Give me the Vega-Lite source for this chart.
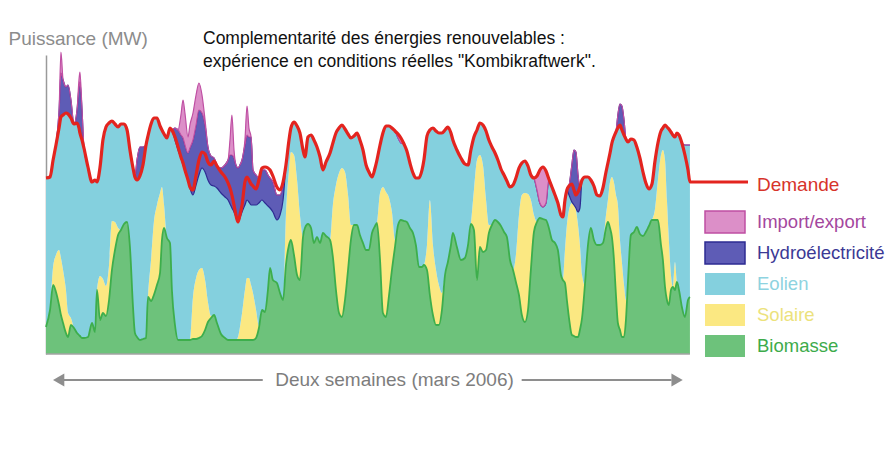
{
 "$schema": "https://vega.github.io/schema/vega-lite/v6.json",
 "autosize": {"type": "none"},
 "width": 702,
 "height": 299,
 "padding": {"left": 46, "top": 55, "right": 140, "bottom": 99},
 "background": "white",
 "config": {"font": "Liberation Sans", "view": {"stroke": null}},
 "title": {
  "text": ["Complementarité des énergies renouvelables :", "expérience en conditions réelles \"Kombikraftwerk\"."],
  "anchor": "start", "frame": "group", "dx": 157, "dy": 41, "offset": 0,
  "fontSize": 17.5, "fontWeight": "normal", "color": "#111111", "lineHeight": 23, "baseline": "top"
 },
 "datasets": {
  "sources": [
   {"k": "bio", "source": "Biomasse", "rank": 1},
   {"k": "sol", "source": "Solaire", "rank": 2},
   {"k": "eol", "source": "Eolien", "rank": 3},
   {"k": "hyd", "source": "Hydroélectricité", "rank": 4},
   {"k": "imp", "source": "Import/export", "rank": 5}
  ],
  "energy": [
   {"h":0,"bio":2.7,"sol":0,"eol":14.9,"hyd":0,"imp":0,"dem":17.6},
   {"h":2.1,"bio":4.4,"sol":0,"eol":13.3,"hyd":0,"imp":0,"dem":17.7},
   {"h":3.7,"bio":6.9,"sol":1.8,"eol":10.7,"hyd":0,"imp":0,"dem":19.4},
   {"h":5.2,"bio":6.2,"sol":3.7,"eol":11.0,"hyd":0,"imp":0,"dem":20.9},
   {"h":6.8,"bio":4.9,"sol":5.5,"eol":12.2,"hyd":1.6,"imp":0,"dem":22.6},
   {"h":7.8,"bio":3.9,"sol":5.7,"eol":14.1,"hyd":4.4,"imp":2.1,"dem":23.7},
   {"h":8.9,"bio":3.1,"sol":5.3,"eol":15.5,"hyd":3.5,"imp":0,"dem":23.9},
   {"h":10.4,"bio":2.1,"sol":4.3,"eol":17.7,"hyd":2.6,"imp":0,"dem":24.1},
   {"h":11.5,"bio":1.7,"sol":2.4,"eol":19.9,"hyd":2.9,"imp":0,"dem":24.0},
   {"h":13.0,"bio":2.9,"sol":0.7,"eol":20.0,"hyd":1.8,"imp":0,"dem":23.6},
   {"h":14.6,"bio":2.6,"sol":0,"eol":20.4,"hyd":0,"imp":0,"dem":23.0},
   {"h":16.2,"bio":2.1,"sol":0,"eol":21.0,"hyd":1.3,"imp":0,"dem":23.1},
   {"h":17.2,"bio":1.9,"sol":0,"eol":20.7,"hyd":4.0,"imp":0.8,"dem":22.6},
   {"h":17.7,"bio":1.8,"sol":0,"eol":20.3,"hyd":5.1,"imp":1.0,"dem":22.1},
   {"h":18.8,"bio":1.6,"sol":0,"eol":19.8,"hyd":3.0,"imp":0,"dem":21.4},
   {"h":19.8,"bio":1.6,"sol":0,"eol":19.0,"hyd":0,"imp":0,"dem":20.6},
   {"h":21.9,"bio":1.7,"sol":0,"eol":17.0,"hyd":0,"imp":0,"dem":18.7},
   {"h":24.0,"bio":3.1,"sol":0,"eol":14.1,"hyd":0,"imp":0,"dem":17.2},
   {"h":25.6,"bio":2.2,"sol":0,"eol":15.2,"hyd":0,"imp":0,"dem":17.4},
   {"h":26.6,"bio":6.4,"sol":0,"eol":10.8,"hyd":0,"imp":0,"dem":17.2},
   {"h":28.2,"bio":3.4,"sol":4.4,"eol":10.9,"hyd":0,"imp":0,"dem":18.7},
   {"h":29.7,"bio":4.1,"sol":3.4,"eol":13.9,"hyd":0,"imp":0,"dem":21.4},
   {"h":31.3,"bio":3.8,"sol":3.0,"eol":15.9,"hyd":0,"imp":0,"dem":22.7},
   {"h":32.9,"bio":5.4,"sol":3.5,"eol":14.2,"hyd":0,"imp":0,"dem":23.1},
   {"h":34.4,"bio":8.4,"sol":4.9,"eol":10.0,"hyd":0,"imp":0,"dem":23.3},
   {"h":36.0,"bio":10.4,"sol":2.8,"eol":9.8,"hyd":0,"imp":0,"dem":23.0},
   {"h":37.6,"bio":11.9,"sol":0.7,"eol":10.1,"hyd":0,"imp":0,"dem":22.7},
   {"h":39.1,"bio":12.4,"sol":0,"eol":10.6,"hyd":0,"imp":0,"dem":23.0},
   {"h":40.7,"bio":13.0,"sol":0,"eol":10.0,"hyd":0,"imp":0,"dem":23.0},
   {"h":42.3,"bio":13.2,"sol":0,"eol":9.2,"hyd":0,"imp":0,"dem":22.4},
   {"h":43.8,"bio":10.7,"sol":0,"eol":9.7,"hyd":0,"imp":0,"dem":20.4},
   {"h":45.4,"bio":4.7,"sol":0,"eol":13.9,"hyd":0,"imp":0,"dem":18.6},
   {"h":46.4,"bio":2.1,"sol":0,"eol":15.6,"hyd":0,"imp":0,"dem":17.7},
   {"h":47.5,"bio":1.7,"sol":0,"eol":15.7,"hyd":2.0,"imp":0,"dem":17.4},
   {"h":49.0,"bio":1.4,"sol":0,"eol":16.4,"hyd":2.9,"imp":0,"dem":17.8},
   {"h":50.6,"bio":1.5,"sol":0,"eol":17.4,"hyd":1.8,"imp":0,"dem":18.9},
   {"h":52.2,"bio":1.6,"sol":0,"eol":19.3,"hyd":0,"imp":0,"dem":20.9},
   {"h":53.2,"bio":5.7,"sol":0,"eol":16.1,"hyd":0,"imp":0,"dem":21.8},
   {"h":54.8,"bio":5.3,"sol":4.1,"eol":13.6,"hyd":0,"imp":0,"dem":23.0},
   {"h":56.3,"bio":5.9,"sol":7.3,"eol":10.4,"hyd":0,"imp":0,"dem":23.6},
   {"h":57.9,"bio":6.9,"sol":8.0,"eol":8.7,"hyd":0,"imp":0,"dem":23.6},
   {"h":59.5,"bio":8.1,"sol":8.0,"eol":6.7,"hyd":0,"imp":0,"dem":22.8},
   {"h":60.5,"bio":11.4,"sol":5.3,"eol":5.7,"hyd":0,"imp":0,"dem":22.4},
   {"h":61.6,"bio":12.6,"sol":2.3,"eol":7.1,"hyd":0,"imp":0,"dem":22.0},
   {"h":63.1,"bio":11.6,"sol":0,"eol":10.0,"hyd":0,"imp":0,"dem":21.6},
   {"h":64.7,"bio":11.1,"sol":0,"eol":11.5,"hyd":0,"imp":0,"dem":22.6},
   {"h":65.7,"bio":6.4,"sol":0,"eol":16.0,"hyd":0,"imp":0,"dem":22.4},
   {"h":67.3,"bio":2.9,"sol":0,"eol":18.5,"hyd":1.2,"imp":0,"dem":21.7},
   {"h":68.9,"bio":1.4,"sol":0,"eol":19.0,"hyd":2.0,"imp":0,"dem":20.7},
   {"h":70.4,"bio":1.4,"sol":0,"eol":18.2,"hyd":2.3,"imp":2.0,"dem":19.7},
   {"h":71.5,"bio":1.4,"sol":0,"eol":17.5,"hyd":2.7,"imp":3.8,"dem":19.1},
   {"h":72.5,"bio":1.4,"sol":0,"eol":17.0,"hyd":2.5,"imp":3.2,"dem":18.4},
   {"h":74.1,"bio":1.4,"sol":0,"eol":16.0,"hyd":2.7,"imp":1.6,"dem":17.4},
   {"h":75.1,"bio":1.4,"sol":0,"eol":15.2,"hyd":4.0,"imp":2.3,"dem":16.7},
   {"h":76.7,"bio":1.5,"sol":4.2,"eol":10.2,"hyd":5.5,"imp":2.7,"dem":16.4},
   {"h":78.3,"bio":1.5,"sol":6.1,"eol":9.3,"hyd":6.0,"imp":3.0,"dem":17.9},
   {"h":79.8,"bio":1.6,"sol":6.8,"eol":9.5,"hyd":6.5,"imp":2.7,"dem":19.4},
   {"h":81.4,"bio":1.8,"sol":6.8,"eol":10.0,"hyd":5.5,"imp":1.8,"dem":20.2},
   {"h":83.0,"bio":2.4,"sol":5.0,"eol":10.8,"hyd":4.7,"imp":0.5,"dem":20.0},
   {"h":84.5,"bio":3.2,"sol":2.0,"eol":12.2,"hyd":3.3,"imp":0,"dem":19.2},
   {"h":86.1,"bio":3.6,"sol":0.2,"eol":13.1,"hyd":2.9,"imp":0,"dem":18.9},
   {"h":87.7,"bio":3.9,"sol":0,"eol":12.9,"hyd":2.8,"imp":0,"dem":19.3},
   {"h":89.2,"bio":3.1,"sol":0,"eol":13.5,"hyd":2.3,"imp":0,"dem":18.8},
   {"h":91.3,"bio":2.0,"sol":0,"eol":14.1,"hyd":2.5,"imp":0,"dem":18.2},
   {"h":93.4,"bio":1.6,"sol":0,"eol":14.1,"hyd":3.2,"imp":0,"dem":17.7},
   {"h":95.0,"bio":1.4,"sol":0,"eol":14.0,"hyd":4.0,"imp":0,"dem":17.1},
   {"h":96.0,"bio":1.4,"sol":0,"eol":13.6,"hyd":4.9,"imp":1.5,"dem":16.6},
   {"h":97.0,"bio":1.4,"sol":0,"eol":13.2,"hyd":5.3,"imp":4.0,"dem":15.9},
   {"h":98.1,"bio":1.4,"sol":0,"eol":12.8,"hyd":5.4,"imp":0.8,"dem":14.9},
   {"h":99.1,"bio":1.4,"sol":0,"eol":12.3,"hyd":5.2,"imp":0,"dem":13.9},
   {"h":100.2,"bio":1.4,"sol":0.3,"eol":11.5,"hyd":5.4,"imp":0,"dem":13.2},
   {"h":101.2,"bio":1.4,"sol":1.3,"eol":10.9,"hyd":5.3,"imp":0,"dem":13.9},
   {"h":102.3,"bio":1.4,"sol":2.7,"eol":10.1,"hyd":5.2,"imp":0,"dem":14.9},
   {"h":103.8,"bio":1.4,"sol":5.0,"eol":8.5,"hyd":6.0,"imp":0.5,"dem":17.2},
   {"h":104.9,"bio":1.4,"sol":6.2,"eol":7.8,"hyd":6.5,"imp":2.9,"dem":17.7},
   {"h":105.9,"bio":1.4,"sol":6.2,"eol":7.6,"hyd":6.5,"imp":0.9,"dem":17.4},
   {"h":107.0,"bio":1.4,"sol":5.5,"eol":8.0,"hyd":6.8,"imp":0,"dem":17.0},
   {"h":108.0,"bio":1.4,"sol":4.7,"eol":8.8,"hyd":3.5,"imp":0,"dem":16.8},
   {"h":109.6,"bio":1.6,"sol":2.8,"eol":10.5,"hyd":3.0,"imp":0,"dem":16.5},
   {"h":111.1,"bio":2.6,"sol":0.2,"eol":12.3,"hyd":2.5,"imp":0,"dem":17.4},
   {"h":112.7,"bio":4.4,"sol":0,"eol":11.0,"hyd":3.0,"imp":0,"dem":18.6},
   {"h":114.3,"bio":4.2,"sol":0,"eol":10.9,"hyd":3.3,"imp":0,"dem":18.7},
   {"h":115.8,"bio":6.4,"sol":0,"eol":8.4,"hyd":3.1,"imp":0,"dem":18.6},
   {"h":116.9,"bio":8.6,"sol":0,"eol":6.0,"hyd":3.0,"imp":0,"dem":18.4},
   {"h":118.4,"bio":7.4,"sol":0,"eol":6.8,"hyd":3.0,"imp":0,"dem":17.8},
   {"h":120.5,"bio":7.1,"sol":0,"eol":6.3,"hyd":2.5,"imp":0,"dem":16.7},
   {"h":122.1,"bio":6.1,"sol":0,"eol":7.8,"hyd":2.0,"imp":0,"dem":16.4},
   {"h":123.7,"bio":5.4,"sol":0,"eol":10.0,"hyd":1.5,"imp":0,"dem":17.2},
   {"h":125.2,"bio":8.9,"sol":5.0,"eol":5.0,"hyd":0,"imp":0,"dem":18.9},
   {"h":126.8,"bio":10.9,"sol":7.5,"eol":3.0,"hyd":0,"imp":0,"dem":21.4},
   {"h":127.8,"bio":11.4,"sol":8.8,"eol":2.4,"hyd":0,"imp":0,"dem":22.6},
   {"h":129.4,"bio":9.9,"sol":10.0,"eol":3.3,"hyd":0,"imp":0,"dem":23.2},
   {"h":131.0,"bio":7.9,"sol":9.5,"eol":5.4,"hyd":0,"imp":0,"dem":22.8},
   {"h":132.5,"bio":7.4,"sol":6.5,"eol":8.2,"hyd":0,"imp":0,"dem":22.1},
   {"h":134.1,"bio":11.7,"sol":0,"eol":8.7,"hyd":0,"imp":0,"dem":20.4},
   {"h":135.1,"bio":12.6,"sol":0,"eol":7.1,"hyd":0,"imp":0,"dem":19.7},
   {"h":136.7,"bio":13.0,"sol":0,"eol":8.7,"hyd":0,"imp":0,"dem":21.7},
   {"h":138.3,"bio":12.6,"sol":0,"eol":9.3,"hyd":0,"imp":0,"dem":21.9},
   {"h":139.8,"bio":11.1,"sol":0,"eol":10.3,"hyd":0,"imp":0,"dem":21.4},
   {"h":141.4,"bio":11.7,"sol":0,"eol":9.0,"hyd":0,"imp":0,"dem":20.7},
   {"h":143.0,"bio":11.1,"sol":0,"eol":8.6,"hyd":0,"imp":0,"dem":19.7},
   {"h":144.5,"bio":12.1,"sol":0,"eol":6.3,"hyd":0,"imp":0,"dem":18.4},
   {"h":146.1,"bio":11.8,"sol":0,"eol":7.4,"hyd":0,"imp":0,"dem":19.2},
   {"h":148.2,"bio":11.4,"sol":0,"eol":8.7,"hyd":0,"imp":0,"dem":20.1},
   {"h":149.7,"bio":9.7,"sol":5.2,"eol":6.2,"hyd":0,"imp":0,"dem":21.1},
   {"h":151.3,"bio":6.4,"sol":10.5,"eol":5.2,"hyd":0,"imp":0,"dem":22.1},
   {"h":152.9,"bio":4.1,"sol":14.0,"eol":4.5,"hyd":0,"imp":0,"dem":22.6},
   {"h":154.4,"bio":3.7,"sol":14.9,"eol":4.3,"hyd":0,"imp":0,"dem":22.9},
   {"h":156.0,"bio":5.4,"sol":12.8,"eol":4.3,"hyd":0,"imp":0,"dem":22.5},
   {"h":157.6,"bio":8.4,"sol":7.5,"eol":6.1,"hyd":0,"imp":0,"dem":22.0},
   {"h":159.1,"bio":11.4,"sol":1.5,"eol":8.7,"hyd":0,"imp":0,"dem":21.6},
   {"h":160.7,"bio":12.9,"sol":0,"eol":8.9,"hyd":0,"imp":0,"dem":21.8},
   {"h":162.3,"bio":12.9,"sol":0,"eol":9.2,"hyd":0,"imp":0,"dem":22.1},
   {"h":163.8,"bio":11.9,"sol":0,"eol":9.5,"hyd":0,"imp":0,"dem":21.4},
   {"h":165.4,"bio":11.1,"sol":0,"eol":9.3,"hyd":0,"imp":0,"dem":20.4},
   {"h":167.0,"bio":10.4,"sol":0,"eol":8.5,"hyd":0,"imp":0,"dem":18.9},
   {"h":168.5,"bio":10.4,"sol":0,"eol":7.8,"hyd":0,"imp":0,"dem":18.2},
   {"h":170.1,"bio":12.1,"sol":0,"eol":5.6,"hyd":0,"imp":0,"dem":17.7},
   {"h":171.7,"bio":12.8,"sol":0,"eol":5.8,"hyd":0,"imp":0,"dem":18.6},
   {"h":172.7,"bio":13.1,"sol":0,"eol":6.3,"hyd":0,"imp":0,"dem":19.4},
   {"h":174.3,"bio":9.4,"sol":6.7,"eol":4.8,"hyd":0,"imp":0,"dem":20.9},
   {"h":175.8,"bio":4.1,"sol":12.6,"eol":5.4,"hyd":0,"imp":0,"dem":22.1},
   {"h":177.4,"bio":3.7,"sol":12.5,"eol":6.6,"hyd":0,"imp":0,"dem":22.8},
   {"h":179.0,"bio":5.9,"sol":9.7,"eol":7.2,"hyd":0,"imp":0,"dem":22.8},
   {"h":180.5,"bio":8.4,"sol":5.8,"eol":8.4,"hyd":0,"imp":0,"dem":22.6},
   {"h":182.1,"bio":10.7,"sol":0.7,"eol":10.9,"hyd":0,"imp":0,"dem":22.3},
   {"h":183.7,"bio":12.9,"sol":0,"eol":8.7,"hyd":0,"imp":0.4,"dem":22.0},
   {"h":185.2,"bio":13.4,"sol":0,"eol":7.7,"hyd":0,"imp":0.5,"dem":21.6},
   {"h":186.8,"bio":13.3,"sol":0,"eol":7.7,"hyd":0,"imp":0,"dem":21.0},
   {"h":188.3,"bio":13.2,"sol":0,"eol":7.1,"hyd":0,"imp":0,"dem":20.3},
   {"h":189.9,"bio":12.6,"sol":0,"eol":6.5,"hyd":0,"imp":0,"dem":19.1},
   {"h":191.5,"bio":12.1,"sol":0,"eol":6.0,"hyd":0,"imp":0,"dem":18.1},
   {"h":193.0,"bio":10.9,"sol":0,"eol":6.7,"hyd":0,"imp":0,"dem":17.6},
   {"h":194.6,"bio":8.7,"sol":0,"eol":8.9,"hyd":0,"imp":0,"dem":17.6},
   {"h":196.2,"bio":8.7,"sol":0,"eol":9.7,"hyd":0,"imp":0,"dem":18.4},
   {"h":197.2,"bio":8.9,"sol":0,"eol":10.5,"hyd":0,"imp":0,"dem":19.4},
   {"h":198.8,"bio":8.4,"sol":2.5,"eol":10.9,"hyd":0,"imp":0,"dem":21.8},
   {"h":200.3,"bio":5.9,"sol":9.5,"eol":7.0,"hyd":0,"imp":0,"dem":22.4},
   {"h":201.9,"bio":3.9,"sol":7.0,"eol":11.7,"hyd":0,"imp":0,"dem":22.6},
   {"h":203.5,"bio":2.9,"sol":5.5,"eol":13.9,"hyd":0,"imp":0,"dem":22.3},
   {"h":205.0,"bio":2.9,"sol":4.0,"eol":15.2,"hyd":0,"imp":0,"dem":22.1},
   {"h":206.6,"bio":4.4,"sol":1.7,"eol":16.0,"hyd":0,"imp":0,"dem":22.1},
   {"h":208.2,"bio":7.9,"sol":0,"eol":14.5,"hyd":0,"imp":0,"dem":22.4},
   {"h":209.7,"bio":9.2,"sol":0,"eol":13.5,"hyd":0,"imp":0,"dem":22.7},
   {"h":211.3,"bio":10.9,"sol":0,"eol":11.2,"hyd":0,"imp":0,"dem":22.1},
   {"h":212.3,"bio":12.1,"sol":0,"eol":9.3,"hyd":0,"imp":0,"dem":21.4},
   {"h":214.4,"bio":10.7,"sol":0,"eol":9.7,"hyd":0,"imp":0,"dem":20.4},
   {"h":216.5,"bio":9.4,"sol":0,"eol":10.2,"hyd":0,"imp":0,"dem":19.6},
   {"h":218.6,"bio":9.6,"sol":0,"eol":9.4,"hyd":0,"imp":0,"dem":19.0},
   {"h":220.2,"bio":10.9,"sol":0,"eol":8.0,"hyd":0,"imp":0,"dem":18.9},
   {"h":221.7,"bio":13.0,"sol":0,"eol":7.4,"hyd":0,"imp":0,"dem":20.4},
   {"h":223.3,"bio":12.4,"sol":4.0,"eol":5.3,"hyd":0,"imp":0,"dem":21.7},
   {"h":224.9,"bio":7.4,"sol":12.0,"eol":3.0,"hyd":0,"imp":0,"dem":22.4},
   {"h":226.4,"bio":10.7,"sol":9.2,"eol":3.2,"hyd":0,"imp":0,"dem":23.1},
   {"h":228.0,"bio":10.2,"sol":8.7,"eol":4.0,"hyd":0,"imp":0,"dem":22.9},
   {"h":229.6,"bio":10.4,"sol":5.0,"eol":6.9,"hyd":0,"imp":0,"dem":22.3},
   {"h":231.1,"bio":12.1,"sol":0.8,"eol":8.5,"hyd":0,"imp":0,"dem":21.4},
   {"h":232.7,"bio":12.9,"sol":0,"eol":7.8,"hyd":0,"imp":0,"dem":20.7},
   {"h":234.3,"bio":13.4,"sol":0,"eol":6.7,"hyd":0,"imp":0,"dem":20.1},
   {"h":235.8,"bio":13.2,"sol":0,"eol":6.2,"hyd":0,"imp":0,"dem":19.4},
   {"h":237.4,"bio":12.8,"sol":0,"eol":5.7,"hyd":0,"imp":0,"dem":18.5},
   {"h":239.0,"bio":12.2,"sol":0,"eol":5.7,"hyd":0,"imp":0,"dem":17.9},
   {"h":240.5,"bio":11.7,"sol":0,"eol":5.6,"hyd":0,"imp":0,"dem":17.3},
   {"h":242.1,"bio":9.4,"sol":0,"eol":7.3,"hyd":0,"imp":0,"dem":16.7},
   {"h":243.7,"bio":8.4,"sol":0,"eol":8.5,"hyd":0,"imp":0,"dem":16.9},
   {"h":245.2,"bio":7.2,"sol":2.7,"eol":7.7,"hyd":0,"imp":0,"dem":17.6},
   {"h":246.8,"bio":5.9,"sol":8.0,"eol":4.7,"hyd":0,"imp":0,"dem":18.6},
   {"h":248.3,"bio":3.9,"sol":12.0,"eol":3.2,"hyd":0,"imp":0,"dem":19.1},
   {"h":249.9,"bio":3.2,"sol":12.9,"eol":3.2,"hyd":0,"imp":0,"dem":19.3},
   {"h":251.5,"bio":4.4,"sol":11.6,"eol":2.8,"hyd":0,"imp":0,"dem":18.8},
   {"h":253.0,"bio":8.4,"sol":7.0,"eol":2.5,"hyd":0,"imp":0,"dem":17.9},
   {"h":254.6,"bio":12.2,"sol":1.7,"eol":3.7,"hyd":0,"imp":0,"dem":17.6},
   {"h":256.2,"bio":13.2,"sol":0,"eol":3.2,"hyd":0,"imp":1.4,"dem":17.8},
   {"h":257.7,"bio":13.6,"sol":0,"eol":1.5,"hyd":0,"imp":3.3,"dem":18.4},
   {"h":259.3,"bio":13.5,"sol":0,"eol":1.2,"hyd":0,"imp":4.0,"dem":18.7},
   {"h":260.9,"bio":13.4,"sol":0,"eol":1.7,"hyd":0,"imp":3.2,"dem":18.3},
   {"h":262.4,"bio":12.6,"sol":0,"eol":4.9,"hyd":0,"imp":0,"dem":17.5},
   {"h":264.0,"bio":11.4,"sol":0,"eol":5.3,"hyd":0,"imp":0,"dem":16.7},
   {"h":265.6,"bio":11.1,"sol":0,"eol":4.8,"hyd":0,"imp":0,"dem":15.9},
   {"h":267.1,"bio":10.4,"sol":0,"eol":4.7,"hyd":0,"imp":0,"dem":15.1},
   {"h":268.7,"bio":7.9,"sol":0,"eol":6.0,"hyd":0,"imp":0,"dem":13.9},
   {"h":269.7,"bio":7.4,"sol":0,"eol":6.3,"hyd":0,"imp":0,"dem":13.7},
   {"h":270.8,"bio":7.1,"sol":3.3,"eol":5.0,"hyd":0,"imp":0,"dem":15.4},
   {"h":271.8,"bio":5.4,"sol":7.5,"eol":3.5,"hyd":0,"imp":0,"dem":16.4},
   {"h":272.9,"bio":3.6,"sol":10.8,"eol":1.5,"hyd":0.9,"imp":0,"dem":16.8},
   {"h":274.4,"bio":1.9,"sol":13.2,"eol":0.1,"hyd":3.7,"imp":0,"dem":17.0},
   {"h":275.5,"bio":1.8,"sol":13.1,"eol":0,"hyd":5.5,"imp":0,"dem":16.4},
   {"h":276.5,"bio":1.7,"sol":12.7,"eol":0.2,"hyd":5.6,"imp":0,"dem":15.9},
   {"h":277.6,"bio":1.7,"sol":11.2,"eol":1.3,"hyd":3.7,"imp":0,"dem":16.2},
   {"h":278.6,"bio":2.4,"sol":8.5,"eol":3.7,"hyd":2.1,"imp":0,"dem":16.7},
   {"h":279.7,"bio":3.6,"sol":4.3,"eol":9.5,"hyd":0,"imp":0,"dem":17.4},
   {"h":281.2,"bio":6.9,"sol":0,"eol":10.8,"hyd":0,"imp":0,"dem":17.7},
   {"h":282.8,"bio":10.9,"sol":0,"eol":6.8,"hyd":0,"imp":0,"dem":17.7},
   {"h":284.3,"bio":12.6,"sol":0,"eol":4.8,"hyd":0,"imp":0,"dem":17.4},
   {"h":285.9,"bio":11.4,"sol":0,"eol":5.4,"hyd":0,"imp":0,"dem":16.8},
   {"h":287.5,"bio":10.9,"sol":0,"eol":5.0,"hyd":0,"imp":0,"dem":15.9},
   {"h":289.0,"bio":10.9,"sol":0,"eol":4.9,"hyd":0,"imp":0,"dem":15.8},
   {"h":290.6,"bio":11.1,"sol":0,"eol":5.5,"hyd":0,"imp":0,"dem":16.6},
   {"h":292.2,"bio":12.6,"sol":1.3,"eol":4.3,"hyd":0,"imp":0,"dem":18.2},
   {"h":293.2,"bio":13.2,"sol":2.2,"eol":3.7,"hyd":0,"imp":0,"dem":19.1},
   {"h":294.3,"bio":12.6,"sol":4.6,"eol":2.9,"hyd":0,"imp":0,"dem":20.1},
   {"h":295.3,"bio":11.7,"sol":6.0,"eol":3.4,"hyd":0,"imp":0,"dem":21.1},
   {"h":296.3,"bio":9.6,"sol":7.6,"eol":4.5,"hyd":0,"imp":0,"dem":21.7},
   {"h":297.4,"bio":5.9,"sol":10.0,"eol":6.3,"hyd":0,"imp":0,"dem":22.2},
   {"h":298.4,"bio":3.1,"sol":11.8,"eol":7.7,"hyd":1.3,"imp":0,"dem":22.6},
   {"h":299.5,"bio":2.4,"sol":9.0,"eol":11.5,"hyd":2.1,"imp":0,"dem":22.9},
   {"h":300.5,"bio":1.7,"sol":7.5,"eol":13.2,"hyd":2.4,"imp":0,"dem":22.4},
   {"h":301.6,"bio":1.7,"sol":5.2,"eol":15.0,"hyd":1.5,"imp":0,"dem":21.9},
   {"h":302.6,"bio":3.4,"sol":2.0,"eol":16.1,"hyd":0,"imp":0,"dem":21.5},
   {"h":303.7,"bio":7.4,"sol":0,"eol":13.8,"hyd":0,"imp":0,"dem":21.2},
   {"h":305.2,"bio":11.9,"sol":0,"eol":9.6,"hyd":0,"imp":0,"dem":21.5},
   {"h":306.8,"bio":12.2,"sol":0,"eol":9.2,"hyd":0,"imp":0,"dem":21.4},
   {"h":308.3,"bio":12.7,"sol":0,"eol":8.0,"hyd":0,"imp":0,"dem":20.7},
   {"h":309.9,"bio":12.0,"sol":0,"eol":7.6,"hyd":0,"imp":0,"dem":19.6},
   {"h":311.5,"bio":11.8,"sol":0,"eol":6.4,"hyd":0,"imp":0,"dem":18.2},
   {"h":313.0,"bio":12.2,"sol":0,"eol":4.9,"hyd":0,"imp":0,"dem":17.1},
   {"h":314.6,"bio":12.8,"sol":0,"eol":3.7,"hyd":0,"imp":0,"dem":16.5},
   {"h":316.2,"bio":13.4,"sol":0,"eol":3.6,"hyd":0,"imp":0,"dem":17.0},
   {"h":317.7,"bio":13.4,"sol":1.0,"eol":4.8,"hyd":0,"imp":0,"dem":19.2},
   {"h":319.3,"bio":13.4,"sol":4.0,"eol":3.7,"hyd":0,"imp":0,"dem":21.1},
   {"h":320.9,"bio":10.9,"sol":9.0,"eol":2.4,"hyd":0,"imp":0,"dem":22.3},
   {"h":321.9,"bio":9.4,"sol":11.0,"eol":2.2,"hyd":0,"imp":0,"dem":22.6},
   {"h":323.0,"bio":6.7,"sol":12.7,"eol":3.5,"hyd":0,"imp":0,"dem":22.9},
   {"h":324.0,"bio":5.4,"sol":10.0,"eol":7.3,"hyd":0,"imp":0,"dem":22.7},
   {"h":325.0,"bio":4.9,"sol":6.5,"eol":11.1,"hyd":0,"imp":0,"dem":22.5},
   {"h":326.1,"bio":6.4,"sol":1.5,"eol":14.3,"hyd":0,"imp":0,"dem":22.2},
   {"h":327.1,"bio":6.7,"sol":0,"eol":15.2,"hyd":0,"imp":0,"dem":21.9},
   {"h":328.2,"bio":6.4,"sol":2.8,"eol":12.5,"hyd":0,"imp":0,"dem":21.7},
   {"h":329.2,"bio":7.2,"sol":0,"eol":14.9,"hyd":0,"imp":0,"dem":22.1},
   {"h":330.3,"bio":6.4,"sol":0,"eol":15.5,"hyd":0,"imp":0,"dem":21.9},
   {"h":331.8,"bio":4.7,"sol":0,"eol":16.4,"hyd":0,"imp":0,"dem":21.1},
   {"h":333.4,"bio":3.7,"sol":0,"eol":17.2,"hyd":0,"imp":0,"dem":19.9},
   {"h":335.0,"bio":5.4,"sol":0,"eol":15.5,"hyd":0,"imp":0,"dem":18.4},
   {"h":336.0,"bio":5.7,"sol":0,"eol":15.2,"hyd":0,"imp":0,"dem":17.2},
   {"h":366.3,"bio":0,"sol":0,"eol":0,"hyd":0,"imp":0,"dem":17.2}
  ]
 },
 "data": {"name": "energy"},
 "layer": [
  {
   "transform": [
    {"filter": "datum.h <= 336"},
    {"fold": ["bio", "sol", "eol", "hyd", "imp"], "as": ["k", "value"]},
    {"lookup": "k", "from": {"data": {"name": "sources"}, "key": "k", "fields": ["source", "rank"]}}
   ],
   "mark": {"type": "area", "interpolate": "monotone", "strokeWidth": 1.2},
   "encoding": {
    "x": {"field": "h", "type": "quantitative", "scale": {"domain": [0, 366.3], "nice": false, "zero": false},
     "axis": {"domain": false, "ticks": false, "labels": false, "grid": false, "title": "Deux semaines (mars 2006)", "titleX": 348, "titleY": 31, "titleAlign": "center", "titleBaseline": "alphabetic", "titleColor": "#7d7d7d", "titleFontSize": 19, "titleFontWeight": "normal"}},
    "y": {"field": "value", "type": "quantitative", "stack": "zero", "scale": {"domain": [0, 29.9], "nice": false},
     "axis": {"domain": true, "domainColor": "#9a9a9a", "domainWidth": 1.5, "ticks": false, "labels": false, "grid": false, "title": "Puissance (MW)", "titleAngle": 0, "titleAlign": "left", "titleBaseline": "alphabetic", "titleX": -38, "titleY": -11, "titleColor": "#8c8c8c", "titleFontSize": 19, "titleFontWeight": "normal"}},
    "color": {"field": "source", "type": "nominal",
     "scale": {"domain": ["Import/export", "Hydroélectricité", "Eolien", "Solaire", "Biomasse"], "range": ["#dc8fc8", "#5e5cb6", "#84d0de", "#fbe882", "#6dc27b"]},
     "legend": {"title": null, "orient": "none", "legendX": 667, "legendY": 155, "padding": 0,
      "symbolType": "M-1.818,-1L1.818,-1L1.818,1L-1.818,1Z", "symbolSize": 484, "symbolStrokeWidth": 1.5, "symbolOpacity": 1,
      "labelFontSize": 18.5, "labelOffset": 20, "rowPadding": 3, "labelLimit": 300,
      "encode": {
       "symbols": {"update": {"stroke": {"signal": "datum.value === 'Import/export' ? '#c452a8' : datum.value === 'Hydroélectricité' ? '#2e2c90' : datum.value === 'Eolien' ? '#76c6d4' : datum.value === 'Solaire' ? '#f1d855' : '#3fae4e'"}, "strokeWidth": {"value": 1.5}}},
       "labels": {"update": {"fill": {"signal": "datum.value === 'Import/export' ? '#a4479e' : datum.value === 'Hydroélectricité' ? '#3b3995' : datum.value === 'Eolien' ? '#8ed3e0' : datum.value === 'Solaire' ? '#ece27c' : '#3dab4b'"}}}
      }}},
    "stroke": {"field": "source", "type": "nominal", "legend": null,
     "scale": {"domain": ["Import/export", "Hydroélectricité", "Eolien", "Solaire", "Biomasse"], "range": ["#bf4fa3", "#2d2b92", "transparent", "transparent", "transparent"]}},
    "order": {"field": "rank", "type": "quantitative"}
   }
  },
  {
   "data": {"values": [{}]},
   "mark": {"type": "rule", "color": "#a3a3a3", "strokeWidth": 1.5},
   "encoding": {"x": {"datum": 0, "type": "quantitative"}, "x2": {"datum": 336}, "y": {"datum": 0, "type": "quantitative"}}
  },
  {
   "transform": [{"filter": "datum.h <= 336"}],
   "mark": {"type": "line", "interpolate": "monotone", "color": "#3dae4c", "strokeWidth": 1.8},
   "encoding": {"x": {"field": "h", "type": "quantitative"}, "y": {"field": "bio", "type": "quantitative"}}
  },
  {
   "mark": {"type": "line", "interpolate": "monotone", "color": "#e3241f", "strokeWidth": 3.2},
   "encoding": {"x": {"field": "h", "type": "quantitative"}, "y": {"field": "dem", "type": "quantitative"}}
  },
  {
   "transform": [{"filter": "datum.h > 340"}],
   "mark": {"type": "text", "text": "Demande", "align": "left", "baseline": "middle", "dx": 9, "dy": 3, "fontSize": 19, "color": "#d7332a"},
   "encoding": {"x": {"field": "h", "type": "quantitative"}, "y": {"field": "dem", "type": "quantitative"}}
  },
  {
   "data": {"values": [{}]},
   "mark": {"type": "rule", "color": "#8e8e8e", "strokeWidth": 2},
   "encoding": {"x": {"datum": 7.3, "type": "quantitative"}, "x2": {"datum": 113.1}, "y": {"datum": -2.6, "type": "quantitative"}}
  },
  {
   "data": {"values": [{}]},
   "mark": {"type": "rule", "color": "#8e8e8e", "strokeWidth": 2},
   "encoding": {"x": {"datum": 248.2, "type": "quantitative"}, "x2": {"datum": 326.4}, "y": {"datum": -2.6, "type": "quantitative"}}
  },
  {
   "data": {"values": [{}]},
   "mark": {"type": "point", "shape": "triangle-left", "filled": true, "size": 170, "color": "#8e8e8e", "opacity": 1},
   "encoding": {"x": {"datum": 6.6, "type": "quantitative"}, "y": {"datum": -2.6, "type": "quantitative"}}
  },
  {
   "data": {"values": [{}]},
   "mark": {"type": "point", "shape": "triangle-right", "filled": true, "size": 170, "color": "#8e8e8e", "opacity": 1},
   "encoding": {"x": {"datum": 329.3, "type": "quantitative"}, "y": {"datum": -2.6, "type": "quantitative"}}
  }
 ]
}
